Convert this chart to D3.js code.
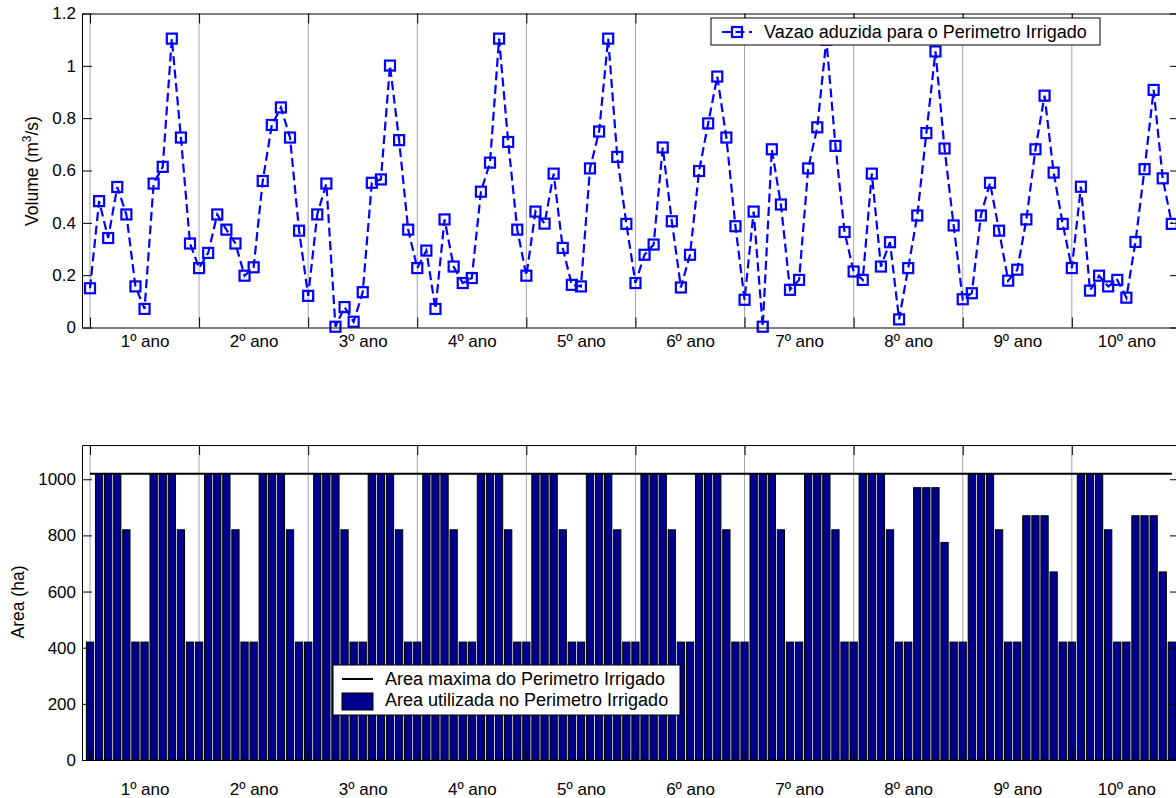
<!DOCTYPE html>
<html>
<head>
<meta charset="utf-8">
<script src="https://cdn.jsdelivr.net/npm/d3@7"></script>
<style>
    body { margin: 0; background: #fff; }
    svg { display: block; font-family: "Liberation Sans", Arial, sans-serif; }
</style>
</head>
<body>
<svg id="chart" width="1176" height="798"></svg>
<script>
// data, one row per year (12 months)
const yearLabels = ["1º ano", "2º ano", "3º ano", "4º ano", "5º ano", "6º ano", "7º ano", "8º ano", "9º ano", "10º ano"];
const yearStarts = [1, 13, 25, 37, 49, 61, 73, 85, 97, 109];
const yearCenters = [7, 19, 31, 43, 55, 67, 79, 91, 103, 115];

const vazao = [
    0.150, 0.483, 0.342, 0.537, 0.432, 0.157, 0.071, 0.550, 0.614, 1.104, 0.726, 0.321,
    0.227, 0.285, 0.432, 0.374, 0.321, 0.198, 0.230, 0.560, 0.774, 0.841, 0.726, 0.370,
    0.121, 0.432, 0.550, 0.003, 0.078, 0.022, 0.135, 0.553, 0.566, 1.001, 0.716, 0.374,
    0.227, 0.294, 0.071, 0.413, 0.233, 0.170, 0.189, 0.519, 0.630, 1.104, 0.709, 0.374,
    0.198, 0.443, 0.397, 0.588, 0.304, 0.163, 0.157, 0.608, 0.749, 1.104, 0.652, 0.396,
    0.170, 0.278, 0.317, 0.688, 0.406, 0.153, 0.278, 0.598, 0.780, 0.959, 0.726, 0.387,
    0.106, 0.443, 0.003, 0.681, 0.470, 0.144, 0.182, 0.608, 0.765, 1.100, 0.694, 0.365,
    0.214, 0.182, 0.588, 0.233, 0.326, 0.031, 0.227, 0.428, 0.743, 1.055, 0.684, 0.390,
    0.108, 0.131, 0.428, 0.553, 0.370, 0.179, 0.221, 0.413, 0.681, 0.886, 0.592, 0.396,
    0.227, 0.538, 0.141, 0.198, 0.157, 0.182, 0.114, 0.327, 0.605, 0.908, 0.570, 0.396
];

const area = [
    420, 1020, 1020, 1020, 820, 420, 420, 1020, 1020, 1020, 820, 420,
    420, 1020, 1020, 1020, 820, 420, 420, 1020, 1020, 1020, 820, 420,
    420, 1020, 1020, 1020, 820, 420, 420, 1020, 1020, 1020, 820, 420,
    420, 1020, 1020, 1020, 820, 420, 420, 1020, 1020, 1020, 820, 420,
    420, 1020, 1020, 1020, 820, 420, 420, 1020, 1020, 1020, 820, 420,
    420, 1020, 1020, 1020, 820, 420, 420, 1020, 1020, 1020, 820, 420,
    420, 1020, 1020, 1020, 820, 420, 420, 1020, 1020, 1020, 820, 420,
    420, 1020, 1020, 1020, 820, 420, 420, 970, 970, 970, 775, 420,
    420, 1020, 1020, 1020, 820, 420, 420, 870, 870, 870, 670, 420,
    420, 1020, 1020, 1020, 820, 420, 420, 870, 870, 870, 670, 420
];
const areaMax = 1020;

const volumeTicks = [0, 0.2, 0.4, 0.6, 0.8, 1, 1.2];
const areaTicks = [0, 200, 400, 600, 800, 1000];

const svg = d3.select("#chart");
svg.append("rect").attr("width", 1176).attr("height", 798).attr("fill", "#fff");

const x = d3.scaleLinear().domain([0.12, 120.9]).range([82, 1180]);
const yVol = d3.scaleLinear().domain([0, 1.2]).range([327.5, 13.5]);
const yArea = d3.scaleLinear().domain([0, 1122]).range([760, 445]);

function DrawGrid(g, y) {
    const [y0, y1] = y.range();
    g.append("g")
        .attr("stroke", "#a6a6a6")
        .attr("stroke-width", 1)
        .selectAll("line")
        .data(yearStarts)
        .join("line")
        .attr("x1", d => x(d)).attr("x2", d => x(d))
        .attr("y1", y0).attr("y2", y1);
}

function DrawFrame(g, y, ticks, fmt, labelPad) {
    const [y0, y1] = y.range();
    const [xl, xr] = x.range();

    // y ticks, pointing inward
    g.append("g")
        .attr("transform", `translate(${xl},0)`)
        .call(d3.axisLeft(y).tickValues(ticks).tickSize(-10).tickSizeOuter(0).tickPadding(6).tickFormat(fmt));
    g.append("g")
        .attr("transform", `translate(${xr},0)`)
        .call(d3.axisRight(y).tickValues(ticks).tickSize(-10).tickSizeOuter(0).tickFormat(""));

    // year separators ticks
    g.append("g")
        .attr("transform", `translate(0,${y0})`)
        .call(d3.axisBottom(x).tickValues(yearStarts).tickSize(-10).tickSizeOuter(0).tickFormat(""));
    g.append("g")
        .attr("transform", `translate(0,${y1})`)
        .call(d3.axisTop(x).tickValues(yearStarts).tickSize(-10).tickSizeOuter(0).tickFormat(""));

    // year labels
    g.append("g")
        .attr("transform", `translate(0,${y0})`)
        .call(d3.axisBottom(x).tickValues(yearCenters).tickSize(0).tickPadding(labelPad)
            .tickFormat((d, i) => yearLabels[i]))
        .call(a => a.select(".domain").remove());

    g.selectAll(".tick text")
        .attr("fill", "#000")
        .style("font-size", "17px")
        .style("font-family", "'Liberation Sans', Arial, sans-serif");
    g.selectAll(".tick line").attr("stroke", "#000");
    g.selectAll(".domain").attr("stroke", "#000");
}

// ---------- top: vazao ----------
const topPanel = svg.append("g");
DrawGrid(topPanel, yVol);

const line = d3.line()
    .x((d, i) => x(i + 1))
    .y(d => yVol(d));

topPanel.append("path")
    .datum(vazao)
    .attr("fill", "none")
    .attr("stroke", "#0000ff")
    .attr("stroke-width", 2.2)
    .attr("stroke-dasharray", "9,4.5")
    .attr("d", line);

topPanel.append("g")
    .attr("fill", "none")
    .attr("stroke", "#0000ff")
    .attr("stroke-width", 2.2)
    .selectAll("rect")
    .data(vazao)
    .join("rect")
    .attr("x", (d, i) => x(i + 1) - 5)
    .attr("y", d => yVol(d) - 5)
    .attr("width", 10)
    .attr("height", 10);

DrawFrame(topPanel, yVol, volumeTicks, d => d3.format("~g")(d), 7);

topPanel.append("text")
    .attr("transform", `translate(38,171) rotate(-90)`)
    .attr("text-anchor", "middle")
    .style("font-size", "17.5px")
    .text("Volume (m")
    .call(t => t.append("tspan").attr("dy", -7).style("font-size", "12px").text("3"))
    .call(t => t.append("tspan").attr("dy", 7).text("/s)"));

// legend top
const leg1 = topPanel.append("g").attr("transform", "translate(711,18)");
leg1.append("rect")
    .attr("width", 389).attr("height", 27)
    .attr("fill", "#fff").attr("stroke", "#000").attr("stroke-width", 1);
leg1.append("line")
    .attr("x1", 11).attr("x2", 41).attr("y1", 14).attr("y2", 14)
    .attr("stroke", "#0000ff").attr("stroke-width", 2.2).attr("stroke-dasharray", "9,4.5");
leg1.append("rect")
    .attr("x", 21).attr("y", 9).attr("width", 10).attr("height", 10)
    .attr("fill", "none").attr("stroke", "#0000ff").attr("stroke-width", 2.2);
leg1.append("text")
    .attr("x", 53).attr("y", 20)
    .style("font-size", "18px")
    .text("Vazao aduzida para o Perimetro Irrigado");

// ---------- bottom: area ----------
const bottomPanel = svg.append("g");
DrawGrid(bottomPanel, yArea);

const barW = (x(1.8) - x(1));
bottomPanel.append("g")
    .attr("fill", "#00008f")
    .attr("stroke", "#000")
    .attr("stroke-width", 1)
    .selectAll("rect")
    .data(area)
    .join("rect")
    .attr("x", (d, i) => x(i + 1) - barW / 2)
    .attr("y", d => yArea(d))
    .attr("width", barW)
    .attr("height", d => yArea(0) - yArea(d));

bottomPanel.append("line")
    .attr("x1", x(1)).attr("x2", x(120))
    .attr("y1", yArea(areaMax)).attr("y2", yArea(areaMax))
    .attr("stroke", "#000").attr("stroke-width", 2);

DrawFrame(bottomPanel, yArea, areaTicks, d => d, 23);

bottomPanel.append("text")
    .attr("transform", `translate(24,602) rotate(-90)`)
    .attr("text-anchor", "middle")
    .style("font-size", "17.5px")
    .text("Area (ha)");

// legend bottom
const leg2 = bottomPanel.append("g").attr("transform", "translate(333,665)");
leg2.append("rect")
    .attr("width", 347).attr("height", 50)
    .attr("fill", "#fff").attr("stroke", "#000").attr("stroke-width", 1);
leg2.append("line")
    .attr("x1", 9).attr("x2", 40).attr("y1", 14).attr("y2", 14)
    .attr("stroke", "#000").attr("stroke-width", 2);
leg2.append("rect")
    .attr("x", 9).attr("y", 28).attr("width", 31).attr("height", 17)
    .attr("fill", "#00008f").attr("stroke", "#000").attr("stroke-width", 1);
leg2.append("text")
    .attr("x", 52).attr("y", 20)
    .style("font-size", "18px")
    .text("Area maxima do Perimetro Irrigado");
leg2.append("text")
    .attr("x", 52).attr("y", 41)
    .style("font-size", "18px")
    .text("Area utilizada no Perimetro Irrigado");
</script>
</body>
</html>
